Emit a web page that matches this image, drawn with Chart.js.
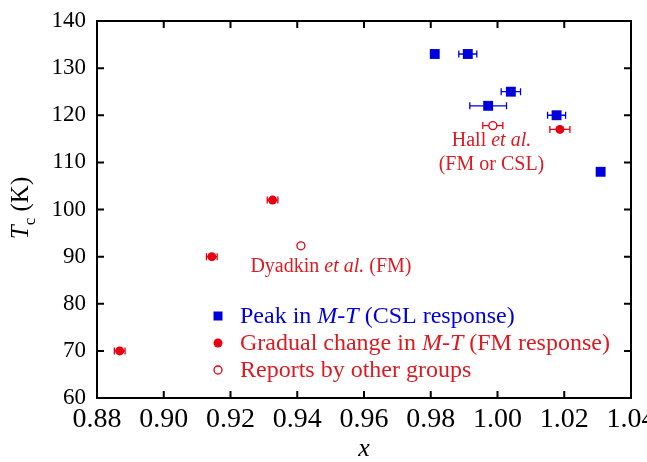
<!DOCTYPE html>
<html><head><meta charset="utf-8">
<script src="https://cdn.jsdelivr.net/npm/chart.js@4/dist/chart.umd.min.js"></script>
<style>html,body{margin:0;padding:0;background:#fff}#wrap{width:647px;height:462px}</style>
</head><body><div id="wrap"><canvas id="c" width="647" height="462"></canvas></div>
<script>
// ---- data ----
const cslX = [0.9812, 0.9911, 1.0040, 0.9972, 1.0177, 1.0309];
const cslY = [133, 133, 125, 122, 120, 108];
const cslXErr = [0, 0.0027, 0.0029, 0.0055, 0.0027, 0];

const fmX = [0.8868, 0.9144, 0.9326, 1.0187];
const fmY = [70, 90, 102, 117];
const fmXErr = [0.0016, 0.0016, 0.0016, 0.003];

const otherX = [0.9411, 0.9986];
const otherY = [92.3, 117.8];
const otherXErr = [0, 0.003];

const xTickValues = [0.88, 0.90, 0.92, 0.94, 0.96, 0.98, 1.00, 1.02, 1.04];
const yTickValues = [60, 70, 80, 90, 100, 110, 120, 130, 140];

const legendLabels = [
  [["Peak in ", false], ["M-T", true], [" (CSL response)", false]],
  [["Gradual change in ", false], ["M-T", true], [" (FM response)", false]],
  [["Reports by other groups", false]]
];
const annotations = [
  {x: 0.9982, y: 114.5, parts: [["Hall ", false], ["et al.", true]]},
  {x: 0.9982, y: 109.4, parts: [["(FM or CSL)", false]]},
  {x: 0.9501, y: 87.8, parts: [["Dyadkin ", false], ["et al.", true], [" (FM)", false]]}
];

const BLUE = '#0000dc';
const RED = '#e60012';
const TXTRED = '#dc1a22';
const SERIF = "'Liberation Serif', 'DejaVu Serif', serif";

function pts(xs, ys, es) { return xs.map((x, i) => ({x: x, y: ys[i], xErr: es[i]})); }

function drawParts(ctx, parts, x, y, size, color, align) {
  ctx.save();
  ctx.fillStyle = color;
  ctx.textBaseline = 'middle';
  ctx.textAlign = 'left';
  let total = 0;
  const widths = parts.map(p => { ctx.font = (p[1] ? 'italic ' : '') + size + 'px ' + SERIF; const w = ctx.measureText(p[0]).width; total += w; return w; });
  let cx = align === 'center' ? x - total / 2 : x;
  parts.forEach((p, i) => { ctx.font = (p[1] ? 'italic ' : '') + size + 'px ' + SERIF; ctx.fillText(p[0], cx, y); cx += widths[i]; });
  ctx.restore();
}

const errorBars = {
  id: 'errorBars',
  beforeDatasetsDraw(chart) {
    const ctx = chart.ctx, xs = chart.scales.x, ys = chart.scales.y;
    chart.data.datasets.forEach(ds => {
      ctx.save();
      ctx.strokeStyle = ds.borderColor;
      ctx.lineWidth = 1.3;
      ds.data.forEach(p => {
        if (!p.xErr) return;
        const y = ys.getPixelForValue(p.y);
        const x1 = xs.getPixelForValue(p.x - p.xErr), x2 = xs.getPixelForValue(p.x + p.xErr);
        ctx.beginPath();
        ctx.moveTo(x1, y); ctx.lineTo(x2, y);
        ctx.moveTo(x1, y - 3.5); ctx.lineTo(x1, y + 3.5);
        ctx.moveTo(x2, y - 3.5); ctx.lineTo(x2, y + 3.5);
        ctx.stroke();
      });
      ctx.restore();
    });
  }
};

const frame = {
  id: 'frame',
  afterDraw(chart) {
    const ctx = chart.ctx, a = chart.chartArea, xs = chart.scales.x, ys = chart.scales.y;
    ctx.save();
    ctx.strokeStyle = '#000';
    ctx.lineWidth = 2;
    ctx.strokeRect(a.left, a.top, a.right - a.left, a.bottom - a.top);
    ctx.beginPath();
    const L = 7;
    xTickValues.forEach(v => {
      const x = xs.getPixelForValue(v);
      ctx.moveTo(x, a.bottom); ctx.lineTo(x, a.bottom - L);
      ctx.moveTo(x, a.top); ctx.lineTo(x, a.top + L);
    });
    yTickValues.forEach(v => {
      const y = ys.getPixelForValue(v);
      ctx.moveTo(a.left, y); ctx.lineTo(a.left + L, y);
      ctx.moveTo(a.right, y); ctx.lineTo(a.right - L, y);
    });
    ctx.stroke();
    ctx.restore();

    // axis titles
    ctx.save();
    ctx.fillStyle = '#000';
    ctx.font = 'italic 26px ' + SERIF;
    ctx.textAlign = 'center';
    ctx.textBaseline = 'middle';
    ctx.fillText('x', (a.left + a.right) / 2, 449);
    ctx.restore();

    ctx.save();
    ctx.translate(23, 208);
    ctx.rotate(-Math.PI / 2);
    ctx.fillStyle = '#000';
    ctx.textBaseline = 'middle';
    ctx.textAlign = 'left';
    const fT = 'italic 25px ' + SERIF, fS = '17px ' + SERIF, fN = '25px ' + SERIF;
    ctx.font = fT; const wT = ctx.measureText('T').width;
    ctx.font = fS; const wS = ctx.measureText('c').width;
    ctx.font = fN; const wN = ctx.measureText(' (K)').width;
    let cx = -(wT + wS + wN) / 2;
    ctx.font = fT; ctx.fillText('T', cx, -2); cx += wT;
    ctx.font = fS; ctx.fillText('c', cx, 8); cx += wS;
    ctx.font = fN; ctx.fillText(' (K)', cx, -2);
    ctx.restore();

    // annotations anchored to data coordinates
    annotations.forEach(an => {
      drawParts(ctx, an.parts, xs.getPixelForValue(an.x), ys.getPixelForValue(an.y), 20, TXTRED, 'center');
    });

    // legend
    const lx = 218, tx = 240, rows = [316, 343, 370];
    ctx.save();
    ctx.fillStyle = BLUE;
    ctx.fillRect(lx - 4.5, rows[0] - 4.5, 9, 9);
    ctx.fillStyle = RED;
    ctx.beginPath(); ctx.arc(lx, rows[1], 4.5, 0, Math.PI * 2); ctx.fill();
    ctx.strokeStyle = RED; ctx.lineWidth = 1.3;
    ctx.beginPath(); ctx.arc(lx, rows[2], 4, 0, Math.PI * 2); ctx.stroke();
    ctx.restore();
    drawParts(ctx, legendLabels[0], tx, rows[0] + 1, 24, BLUE, 'left');
    drawParts(ctx, legendLabels[1], tx, rows[1] + 1, 24, TXTRED, 'left');
    drawParts(ctx, legendLabels[2], tx, rows[2] + 1, 24, TXTRED, 'left');
  }
};

new Chart(document.getElementById('c'), {
  type: 'scatter',
  data: {
    datasets: [
      {label: 'CSL', data: pts(cslX, cslY, cslXErr), pointStyle: 'rect', pointRadius: 7, pointHoverRadius: 7,
       backgroundColor: BLUE, borderColor: BLUE, borderWidth: 0},
      {label: 'FM', data: pts(fmX, fmY, fmXErr), pointStyle: 'circle', pointRadius: 4.5, pointHoverRadius: 4.5,
       backgroundColor: RED, borderColor: RED, borderWidth: 0},
      {label: 'Others', data: pts(otherX, otherY, otherXErr), pointStyle: 'circle', pointRadius: 4, pointHoverRadius: 4,
       backgroundColor: '#fff', borderColor: RED, borderWidth: 1.3}
    ]
  },
  options: {
    responsive: false,
    animation: false,
    devicePixelRatio: 1,
    layout: {padding: {top: 21, right: 16, left: 0, bottom: 0}},
    plugins: {legend: {display: false}, tooltip: {enabled: false}},
    scales: {
      x: {
        type: 'linear', min: 0.88, max: 1.04,
        afterBuildTicks: s => { s.ticks = xTickValues.map(v => ({value: v})); },
        afterFit: s => { s.height = 64; s.paddingLeft = 0; s.paddingRight = 0; },
        ticks: {callback: v => v.toFixed(2), color: '#000', padding: 5, maxRotation: 0, autoSkip: false,
                font: {family: SERIF, size: 28}},
        grid: {display: false, drawTicks: false},
        border: {display: false},
        title: {display: false}
      },
      y: {
        type: 'linear', min: 60, max: 140,
        afterBuildTicks: s => { s.ticks = yTickValues.map(v => ({value: v})); },
        afterFit: s => { s.width = 97; s.paddingTop = 0; s.paddingBottom = 0; },
        ticks: {callback: v => String(v), color: '#000', padding: 11, autoSkip: false,
                font: {family: SERIF, size: 23}},
        grid: {display: false, drawTicks: false},
        border: {display: false},
        title: {display: false}
      }
    }
  },
  plugins: [errorBars, frame]
});
</script>
</body></html>
